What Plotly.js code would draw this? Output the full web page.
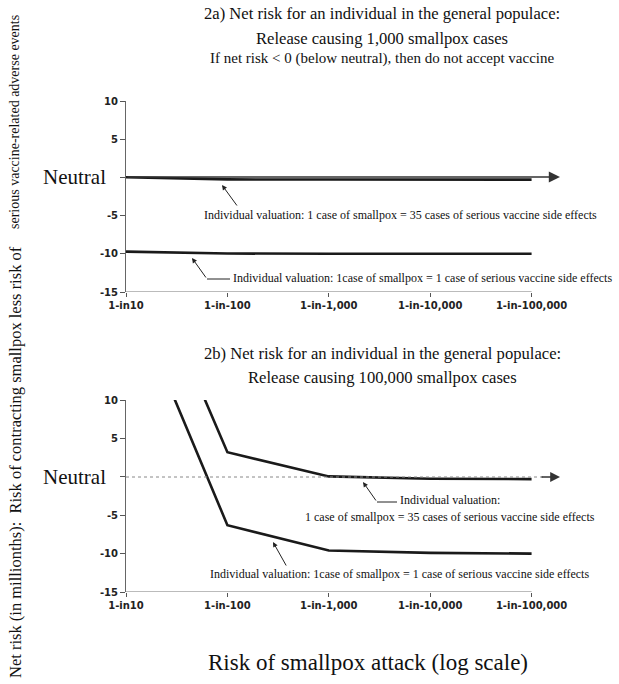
<!DOCTYPE html>
<html>
<head>
<meta charset="utf-8">
<script src="https://cdn.plot.ly/plotly-3.0.1.min.js"></script>
<style>html,body{margin:0;padding:0;background:#fff;}#chart{width:619px;height:684px;}</style>
</head>
<body>
<div id="chart"></div>
<script>
// ---- data ----
const attackRisk = [10, 100, 1000, 10000, 100000];
const tickLabels = ["1-in10", "1-in-100", "1-in-1,000", "1-in-10,000", "1-in-100,000"];
const yTicks = [-15, -10, -5, 0, 5, 10];
const yTickLabels = ["-15", "-10", "-5", "", "5", "10"];
// 2a) release causing 1,000 cases
const a_val35 = [0.02, -0.26, -0.28, -0.29, -0.29];
const a_val1 = [-9.72, -9.96, -10.0, -10.0, -10.0];
// 2b) release causing 100,000 cases
const b_val35 = [34.0, 3.2, 0.05, -0.25, -0.3];
const b_val1 = [25.2, -6.3, -9.6, -9.9, -10.0];

// ---- layout helpers (pixel -> paper) ----
const W = 619, H = 684;
const mL = 126, mR = 57, mT = 101, mB = 92;
const pw = W - mL - mR, ph = H - mT - mB;
const px = x => (x - mL) / pw;
const py = y => (H - mB - y) / ph;

const serif = "Liberation Serif, Times New Roman, serif";
const sans = "DejaVu Sans, Verdana, sans-serif";

function line(x, y, ax, ay) {
  return {x: x, y: y, xaxis: ax, yaxis: ay, type: 'scatter', mode: 'lines',
          line: {color: '#1a1a1a', width: 2.6}, hoverinfo: 'skip', showlegend: false};
}
const traces = [
  line(attackRisk, a_val35, 'x', 'y'),
  line(attackRisk, a_val1, 'x', 'y'),
  line(attackRisk, b_val35, 'x2', 'y2'),
  line(attackRisk, b_val1, 'x2', 'y2')
];

function xax(anchor) {
  return {type: 'log', range: [1, 5.3], anchor: anchor,
    tickvals: attackRisk, ticktext: tickLabels, ticks: 'outside', ticklen: 4,
    tickcolor: '#555', tickwidth: 1, showline: false, showgrid: false, zeroline: false,
    tickfont: {family: sans, size: 10, color: '#222', weight: 'bold'}, fixedrange: true};
}
function yax(anchor, dom) {
  return {range: [-15, 10], domain: dom, anchor: anchor,
    tickvals: yTicks, ticktext: yTickLabels, ticks: 'outside', ticklen: 5,
    tickcolor: '#555', tickwidth: 1, showline: true, linecolor: '#666', linewidth: 1,
    showgrid: false, zeroline: false,
    tickfont: {family: sans, size: 10, color: '#222', weight: 'bold'}, fixedrange: true};
}

function txt(text, xp, yp, size, anchor) {
  return {text: text, xref: 'paper', yref: 'paper', x: px(xp), y: py(yp),
    xanchor: anchor || 'center', yanchor: 'middle', showarrow: false,
    font: {family: serif, size: size, color: '#111'}};
}
function vtxt(text, xp, yp, size) {
  return {text: text, xref: 'paper', yref: 'paper', x: px(xp), y: py(yp),
    xanchor: 'center', yanchor: 'middle', textangle: -90, showarrow: false,
    font: {family: serif, size: size, color: '#111'}};
}
function arrow(hx, hy, tx, ty) {
  return {text: '', xref: 'paper', yref: 'paper', x: px(hx), y: py(hy),
    ax: tx - hx, ay: ty - hy, showarrow: true, arrowhead: 2, arrowsize: 1,
    arrowwidth: 1, arrowcolor: '#222'};
}
function seg(x0, y0, x1, y1, color, width, dash) {
  return {type: 'line', xref: 'paper', yref: 'paper', x0: px(x0), y0: py(y0),
    x1: px(x1), y1: py(y1), line: {color: color, width: width, dash: dash || 'solid'}};
}

const annotations = [
  txt("2a) Net risk for an individual in the general populace:", 382, 14, 16.6),
  txt("Release causing 1,000 smallpox cases", 382, 38, 16.6),
  txt("If net risk &lt; 0 (below neutral), then do not accept vaccine", 382, 58, 15),
  txt("2b) Net risk for an individual in the general populace:", 382, 353, 16.6),
  txt("Release causing 100,000 smallpox cases", 382, 377, 16.6),
  txt("Neutral", 108, 177, 21, 'right'),
  txt("Neutral", 108, 477, 21, 'right'),
  txt("Individual valuation: 1 case of smallpox = 35 cases of serious vaccine side effects", 202, 215, 12, 'left'),
  txt("Individual valuation: 1case of smallpox = 1 case of serious vaccine side effects", 231, 278, 12, 'left'),
  txt("Individual valuation:", 398, 500, 12, 'left'),
  txt("1 case of smallpox = 35 cases of serious vaccine side effects", 450, 517, 12),
  txt("Individual valuation: 1case of smallpox = 1 case of serious vaccine side effects", 208, 574, 12, 'left'),
  txt("Risk of smallpox attack (log scale)", 368, 662, 23),
  vtxt("Net risk (in millionths):  Risk of contracting smallpox less risk of", 15, 462, 16.5),
  vtxt("serious vaccine-related adverse events", 14, 122, 14),
  // arrows to curves
  arrow(222, 185, 238, 207),
  arrow(192, 258, 207, 279),
  arrow(363, 482, 377, 502),
  arrow(273, 542, 287, 567),
  // neutral arrows
  {text: '', xref: 'paper', yref: 'paper', x: px(560), y: py(177), ax: -434, ay: 0,
   showarrow: true, arrowhead: 2, arrowsize: 1.4, arrowwidth: 1.6, arrowcolor: '#333'},
  {text: '', xref: 'paper', yref: 'paper', x: px(560), y: py(477), ax: -20, ay: 0,
   showarrow: true, arrowhead: 2, arrowsize: 1.4, arrowwidth: 1.4, arrowcolor: '#333'}
];

const shapes = [
  // x-axis baselines (end at 1-in-100,000)
  {type: 'line', xref: 'x', yref: 'y', x0: 10, x1: 100000, y0: -15, y1: -15, line: {color: '#777', width: 1}},
  {type: 'line', xref: 'x2', yref: 'y2', x0: 10, x1: 100000, y0: -15, y1: -15, line: {color: '#777', width: 1}},
  // neutral dotted line in 2b
  seg(126, 477, 545, 477, '#888', 1, 'dot'),
  // elbow connectors to labels
  seg(207, 279, 230, 279, '#222', 1),
  seg(377, 502, 397, 502, '#222', 1)
];

const layout = {
  width: W, height: H,
  margin: {l: mL, r: mR, t: mT, b: mB},
  paper_bgcolor: '#fff', plot_bgcolor: '#fff',
  showlegend: false,
  xaxis: xax('y'), yaxis: yax('x', [py(292), 1]),
  xaxis2: xax('y2'), yaxis2: yax('x2', [0, py(400)]),
  annotations: annotations, shapes: shapes
};

Plotly.newPlot('chart', traces, layout, {displayModeBar: false, staticPlot: true});
</script>
</body>
</html>
